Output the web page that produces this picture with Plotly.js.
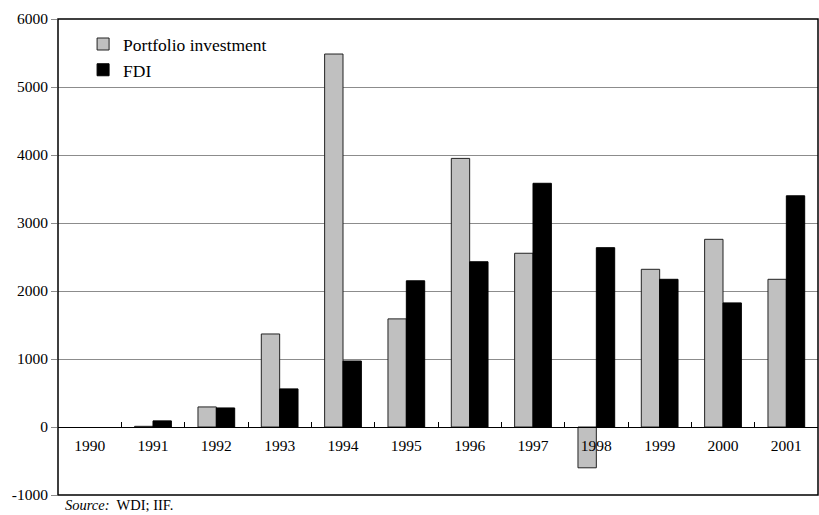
<!DOCTYPE html>
<html><head><meta charset="utf-8">
<script src="https://cdn.plot.ly/plotly-3.0.1.min.js"></script>
<style>html,body{margin:0;padding:0;background:#fff}</style>
</head><body>
<div id="chart" style="width:819px;height:515px"></div>
<script>
var years = ["1990","1991","1992","1993","1994","1995","1996","1997","1998","1999","2000","2001"];
var portfolio = [null, 10, 295, 1368, 5485, 1590, 3950, 2555, -600, 2319, 2760, 2172];
var fdi = [null, 90, 280, 560, 970, 2150, 2430, 3584, 2637, 2172, 1825, 3400];
var yTicks = [-1000, 0, 1000, 2000, 3000, 4000, 5000, 6000];

var serif = "'Liberation Serif', 'Times New Roman', serif";
var traces = [
  {type:"bar", name:"Portfolio investment", x:years, y:portfolio, legendgroup:"a",
   marker:{color:"#c0c0c0", line:{color:"#222", width:1}}},
  {type:"bar", name:"FDI", x:years, y:fdi, legendgroup:"b",
   marker:{color:"#000000", line:{color:"#000", width:1}}}
];
var layout = {
  width:819, height:515,
  margin:{l:58, r:1, t:19, b:20},
  paper_bgcolor:"#fff", plot_bgcolor:"#fff",
  barmode:"group", bargap:0.42, bargroupgap:0,
  font:{family:serif, size:15.5, color:"#000"},
  showlegend:true,
  legend:{x:0.033, y:0.985, xanchor:"left", yanchor:"top", bgcolor:"rgba(0,0,0,0)",
          traceorder:"grouped", tracegroupgap:0,
          font:{family:serif, size:17.5, color:"#000"}, itemwidth:30},
  xaxis:{type:"category", anchor:"free", position:1/7, showline:true, linecolor:"#000", linewidth:1,
         ticks:"inside", tickson:"boundaries", ticklen:5, tickcolor:"#000",
         showgrid:false, zeroline:false, tickfont:{family:serif, size:15.5}, ticklabelstandoff:4},
  yaxis:{range:[-1000,6000], tickvals:yTicks, ticktext:yTicks.map(String), showgrid:true,
         gridcolor:"#8c8c8c", gridwidth:1, zeroline:false, showline:false,
         ticks:"outside", ticklen:6, tickcolor:"#8c8c8c", tickfont:{family:serif, size:15.5}},
  shapes:[{type:"rect", xref:"paper", yref:"paper", x0:0, x1:1, y0:0, y1:1,
           line:{color:"#000", width:1.5}, fillcolor:"rgba(0,0,0,0)", layer:"above"}],
  annotations:[{xref:"paper", yref:"paper", x:0.006, y:-0.001, xanchor:"left", yanchor:"top",
                showarrow:false, text:"<i>Source:</i>&nbsp; WDI; IIF.", font:{family:serif, size:14.5, color:"#000"}}]
};
Plotly.newPlot("chart", traces, layout, {displayModeBar:false, staticPlot:true});
</script>
</body></html>
